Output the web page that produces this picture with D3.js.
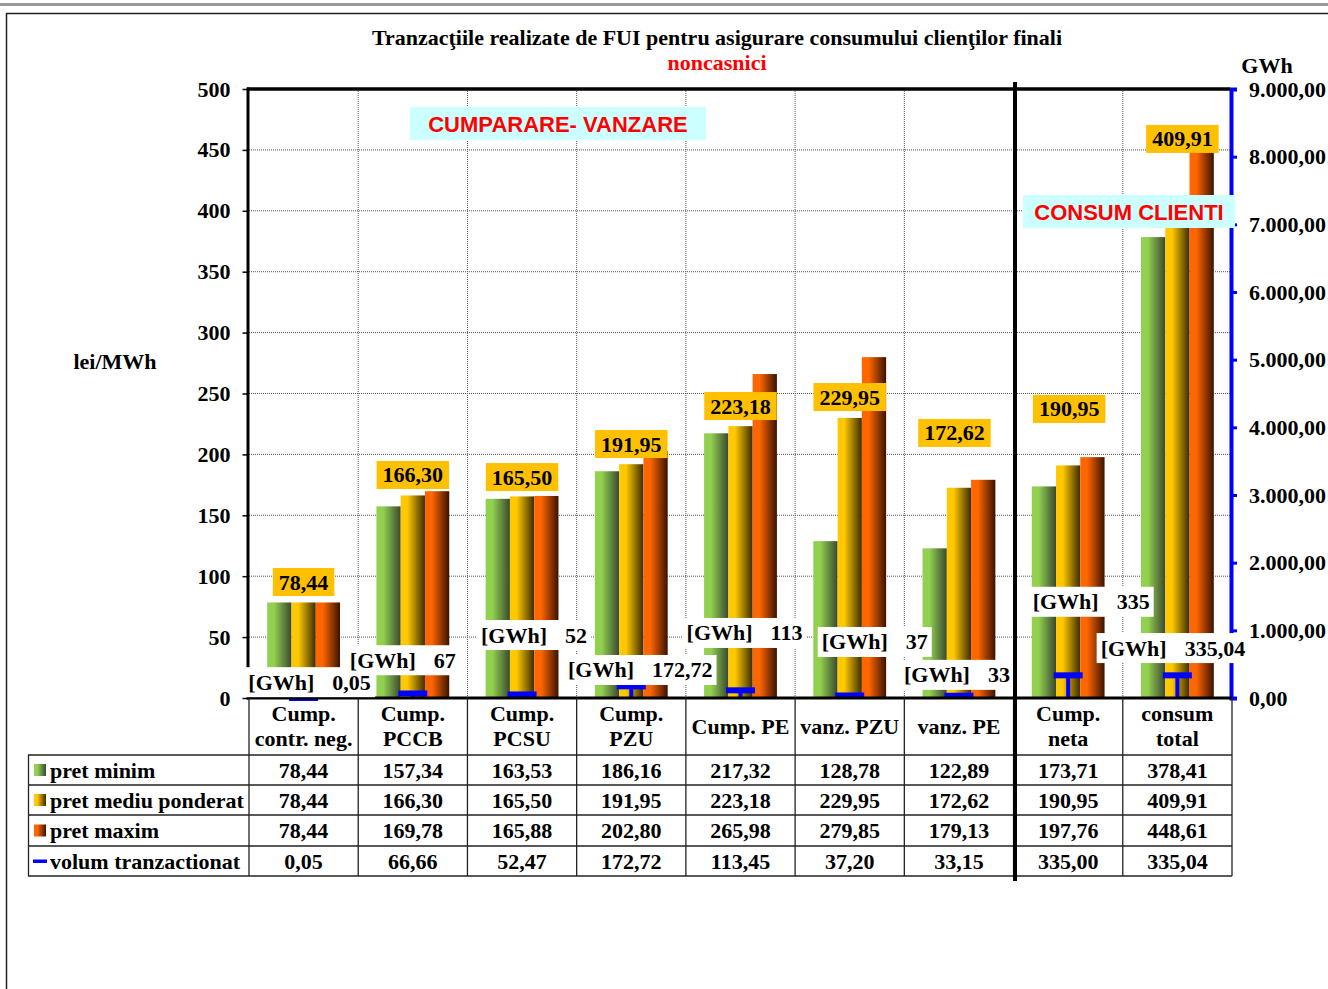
<!DOCTYPE html>
<html><head><meta charset="utf-8">
<script src="https://cdn.jsdelivr.net/npm/d3@7"></script>
<style>
body{margin:0;background:#fff}
svg{display:block}
text{font-family:"Liberation Serif","Times New Roman",serif;font-weight:bold;fill:#000}
</style>
</head><body>
<svg id="c" width="1328" height="989"></svg>
<script>
// ---------------- data ----------------
const categories = [["Cump.","contr. neg."],["Cump.","PCCB"],["Cump.","PCSU"],["Cump.","PZU"],["Cump. PE"],["vanz. PZU"],["vanz. PE"],["Cump.","neta"],["consum","total"]];
const pretMinim  = [78.44,157.34,163.53,186.16,217.32,128.78,122.89,173.71,378.41];
const pretMediu  = [78.44,166.30,165.50,191.95,223.18,229.95,172.62,190.95,409.91];
const pretMaxim  = [78.44,169.78,165.88,202.80,265.98,279.85,179.13,197.76,448.61];
const volum      = [0.05,66.66,52.47,172.72,113.45,37.20,33.15,335.00,335.04];
const volumLabels = ["0,05","67","52","172,72","113","37","33","335","335,04"];
const seriesNames = ["pret minim","pret mediu ponderat","pret maxim","volum tranzactionat"];
const leftTicks  = [0,50,100,150,200,250,300,350,400,450,500];
const rightTicks = [0,1000,2000,3000,4000,5000,6000,7000,8000,9000];
const titleText = "Tranzacţiile realizate de FUI pentru asigurare consumului clienţilor finali";
const subtitleText = "noncasnici";

// ---------------- layout (annotation placement) ----------------
const meanLabelAt = [[0,95.2],[0,183.1],[0,181.4],[0,208.5],[0,239.7],[0,247.1],[-4.5,217.6],[1,237.3],[5,459]]; // [dx px, price units]
const volLabelAt  = [[6,13],[-10,31],[12,51.7],[9,23],[4,53.4],[25,46],[-2,19],[23,79],[-4.5,41]];

const FS = 22;
const svg = d3.select("#c");
const loc = d3.formatLocale({decimal:",", thousands:".", grouping:[3], currency:["",""]});
const f2 = loc.format(",.2f");

const L = 249, R = 1232, T = 89, B = 698;
const idx = categories.map((d,i)=>i);
const x = d3.scaleBand().domain(idx).range([L,R]).padding(0);
const bw = x.bandwidth();
const xi = d3.scaleBand().domain([0,1,2]).range([0,bw]).paddingInner(0).paddingOuter(0.75);
const yL = d3.scaleLinear().domain([0,500]).range([B,T]);
const yR = d3.scaleLinear().domain([0,9000]).range([B,T]);

// gradients
const defs = svg.append("defs");
const grads = [["gMin","#92d050","#3a4830"],["gMed","#ffc800","#3a2c00"],["gMax","#ff6600","#3a1200"]];
grads.forEach(([id,a,b])=>{
  const g = defs.append("linearGradient").attr("id",id).attr("x1",0).attr("x2",1).attr("y1",0).attr("y2",0);
  g.append("stop").attr("offset","0%").attr("stop-color",a);
  g.append("stop").attr("offset","28%").attr("stop-color",a);
  g.append("stop").attr("offset","100%").attr("stop-color",b);
});

// frame
svg.append("rect").attr("x",0).attr("y",3).attr("width",1328).attr("height",3).attr("fill","#999");
svg.append("line").attr("x1",6).attr("x2",1328).attr("y1",13.5).attr("y2",13.5).attr("stroke","#222").attr("stroke-width",1.5);
svg.append("line").attr("x1",6.5).attr("x2",6.5).attr("y1",13).attr("y2",989).attr("stroke","#222").attr("stroke-width",1.5);

// titles
svg.append("text").attr("x",717).attr("y",45).attr("text-anchor","middle").attr("font-size",FS).text(titleText);
svg.append("text").attr("x",717).attr("y",70).attr("text-anchor","middle").attr("font-size",FS).style("fill","#ff0000").text(subtitleText);
svg.append("text").attr("x",1267).attr("y",73).attr("text-anchor","middle").attr("font-size",FS).text("GWh");
svg.append("text").attr("x",115).attr("y",369).attr("text-anchor","middle").attr("font-size",FS).text("lei/MWh");

// gridlines
const grid = svg.append("g").attr("stroke","#555").attr("stroke-width",1).attr("stroke-dasharray","1,1");
leftTicks.filter(t=>t>0 && t<500).forEach(t=>{
  grid.append("line").attr("x1",L).attr("x2",R).attr("y1",yL(t)).attr("y2",yL(t));
});
idx.slice(1).forEach(i=>{
  grid.append("line").attr("x1",x(i)).attr("x2",x(i)).attr("y1",T).attr("y2",B);
});

// CUMPARARE box
svg.append("rect").attr("x",410).attr("y",107).attr("width",296).attr("height",33).attr("fill","#ccffff");
svg.append("text").attr("x",558).attr("y",132).attr("text-anchor","middle").attr("font-size",FS)
  .style("font-family","'Liberation Sans',Arial,sans-serif").style("fill","#ff0000").text("CUMPARARE- VANZARE");

// bars
const series = [pretMinim,pretMediu,pretMaxim];
const bars = svg.append("g");
idx.forEach(i=>{
  series.forEach((vals,s)=>{
    bars.append("rect")
      .attr("x",x(i)+xi(s)).attr("width",xi.bandwidth())
      .attr("y",yL(vals[i])).attr("height",yL(0)-yL(vals[i]))
      .attr("fill",`url(#${grads[s][0]})`);
  });
});

// volume markers (right axis)
const mk = svg.append("g");
idx.forEach(i=>{
  const cx = x(i)+bw/2, yy = yR(volum[i]);
  mk.append("line").attr("x1",cx).attr("x2",cx).attr("y1",yy).attr("y2",yR(0)).attr("stroke","#0000ff").attr("stroke-width",4);
  mk.append("rect").attr("x",cx-14.5).attr("width",29).attr("y",yy-3).attr("height",6).attr("fill","#0000ff");
});

// axes
const ax = svg.append("g").attr("transform",`translate(${L-0.5},0)`)
  .call(d3.axisLeft(yL).tickValues(leftTicks).tickSize(6).tickPadding(12));
ax.select(".domain").remove();
ax.selectAll(".tick line").attr("stroke","#000").attr("stroke-width",1.5);
ax.selectAll("text").attr("font-size",FS);

const axr = svg.append("g").attr("transform",`translate(${R-1},0)`)
  .call(d3.axisRight(yR).tickValues(rightTicks).tickFormat(f2).tickSize(6).tickPadding(12));
axr.select(".domain").attr("stroke","#0000ff").attr("stroke-width",4);
axr.selectAll(".tick line").attr("stroke","#0000ff").attr("stroke-width",3);
axr.selectAll("text").attr("font-size",FS);

// plot borders
svg.append("line").attr("x1",L-1).attr("x2",L-1).attr("y1",T-1.5).attr("y2",B+1.5).attr("stroke","#000").attr("stroke-width",3);
svg.append("line").attr("x1",L-2).attr("x2",R-2).attr("y1",T).attr("y2",T).attr("stroke","#000").attr("stroke-width",3.5);
svg.append("line").attr("x1",L-2).attr("x2",R).attr("y1",B).attr("y2",B).attr("stroke","#000").attr("stroke-width",3);

// mean price labels
idx.forEach(i=>{
  const cx = x(i)+bw/2+meanLabelAt[i][0], cy = yL(meanLabelAt[i][1]);
  const g = svg.append("g");
  const t = g.append("text").attr("x",cx).attr("y",cy+7.5).attr("text-anchor","middle").attr("font-size",FS).text(f2(pretMediu[i]));
  const w = t.node().getComputedTextLength();
  g.insert("rect","text").attr("x",cx-w/2-6).attr("y",cy-14).attr("width",w+12).attr("height",28).attr("fill","#ffc000");
});

// CONSUM CLIENTI box
svg.append("rect").attr("x",1023).attr("y",195).attr("width",212).attr("height",33).attr("fill","#ccffff");
svg.append("text").attr("x",1129).attr("y",220).attr("text-anchor","middle").attr("font-size",FS)
  .style("font-family","'Liberation Sans',Arial,sans-serif").style("fill","#ff0000").text("CONSUM CLIENTI");

// volume labels
const GAP = 18;
idx.forEach(i=>{
  const cx = x(i)+bw/2+volLabelAt[i][0], cy = yL(volLabelAt[i][1]);
  const g = svg.append("g");
  const t = g.append("text").attr("y",cy+7.5).attr("font-size",FS);
  t.append("tspan").text("[GWh]");
  t.append("tspan").attr("dx",GAP).text(volumLabels[i]);
  const w = t.node().getBBox().width;
  t.attr("x",cx-w/2);
  g.insert("rect","text").attr("x",cx-w/2-4).attr("y",cy-15).attr("width",w+8).attr("height",30).attr("fill","#fff");
});

// data table
const rowsY = [698,755,785,815,846,876];
const tb = svg.append("g");
const tl = tb.append("g").attr("stroke","#222").attr("stroke-width",1.3);
for (let r=1;r<rowsY.length;r++) tl.append("line").attr("x1",28).attr("x2",R).attr("y1",rowsY[r]).attr("y2",rowsY[r]);
tl.append("line").attr("x1",28.5).attr("x2",28.5).attr("y1",rowsY[1]).attr("y2",rowsY[5]);
idx.forEach(i=>tl.append("line").attr("x1",x(i)).attr("x2",x(i)).attr("y1",B).attr("y2",rowsY[5]));
tl.append("line").attr("x1",R).attr("x2",R).attr("y1",B).attr("y2",rowsY[5]);

// header labels
idx.forEach(i=>{
  const lines = categories[i], cx = x(i)+bw/2;
  if (lines.length===1) tb.append("text").attr("x",cx).attr("y",734).attr("text-anchor","middle").attr("font-size",FS).text(lines[0]);
  else lines.forEach((ln,k)=>tb.append("text").attr("x",cx).attr("y",721+k*25).attr("text-anchor","middle").attr("font-size",FS).text(ln));
});
// rows
const tableVals = [pretMinim,pretMediu,pretMaxim,volum];
tableVals.forEach((vals,r)=>{
  const cy = (rowsY[r+1]+rowsY[r+2])/2;
  tb.append("text").attr("x",50).attr("y",cy+7.5).attr("font-size",FS).text(seriesNames[r]);
  if (r<3) tb.append("rect").attr("x",34).attr("y",cy-6).attr("width",12).attr("height",12).attr("fill",`url(#${grads[r][0]})`);
  else tb.append("rect").attr("x",33).attr("y",cy-1.5).attr("width",14).attr("height",3.5).attr("fill","#0000ff");
  idx.forEach(i=>tb.append("text").attr("x",x(i)+bw/2).attr("y",cy+7.5).attr("text-anchor","middle").attr("font-size",FS).text(f2(vals[i])));
});

// separator
svg.append("line").attr("x1",1015).attr("x2",1015).attr("y1",82).attr("y2",881).attr("stroke","#000").attr("stroke-width",4);
</script>
</body></html>
